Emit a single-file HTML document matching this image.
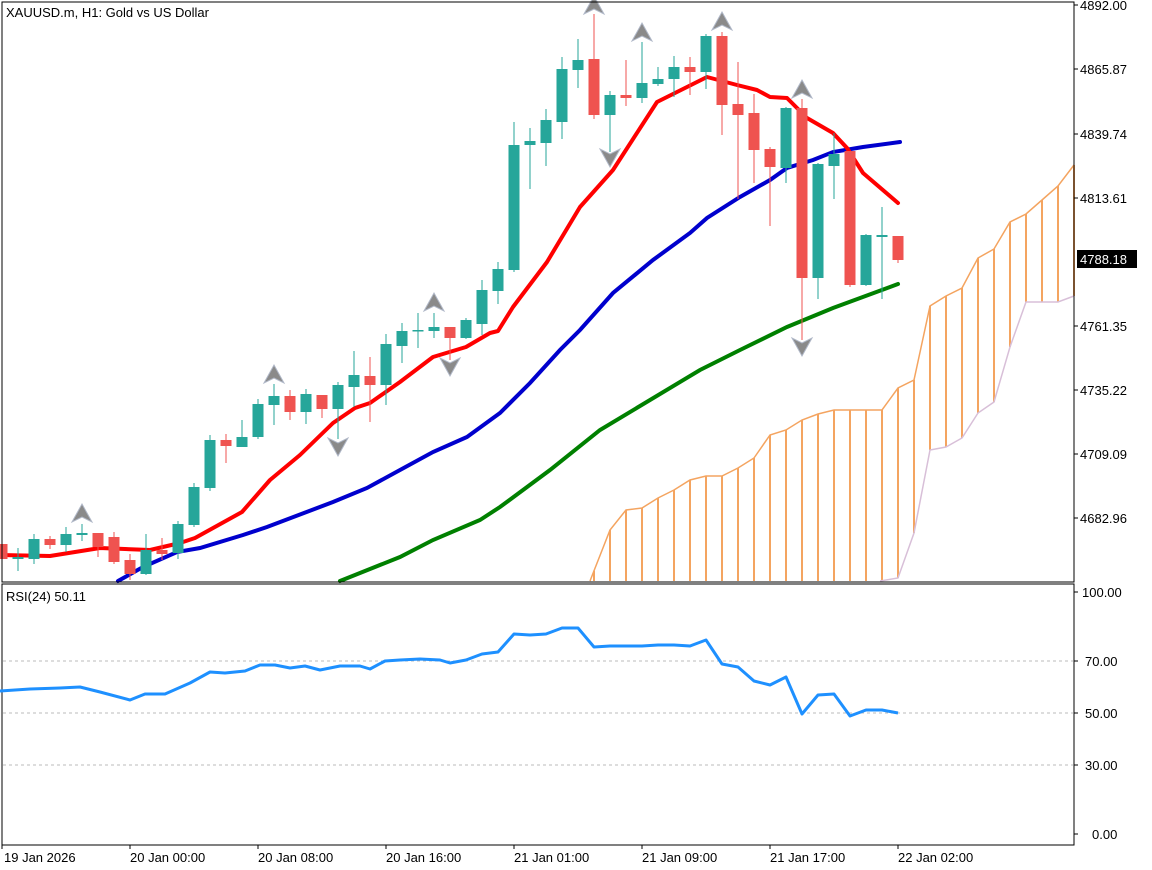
<!DOCTYPE html>
<html><head><meta charset="utf-8"><style>
html,body{margin:0;padding:0;background:#fff;}
svg{display:block;font-family:"Liberation Sans",sans-serif;}
</style></head><body>
<svg id="s" width="1152" height="870" xmlns="http://www.w3.org/2000/svg">
<rect width="1152" height="870" fill="#fff"/>
<g id="cloud"></g>
<g id="lines"></g>
<g id="candles"></g>
<g id="arrows"></g>
<rect x="2" y="2" width="1072" height="580" fill="none" stroke="#000" stroke-width="1"/>
<rect x="2" y="584" width="1072" height="261" fill="none" stroke="#000" stroke-width="1"/>
<g stroke="#bbb" stroke-dasharray="3,3" stroke-width="1">
<line x1="3" y1="661" x2="1073" y2="661"/><line x1="3" y1="713" x2="1073" y2="713"/><line x1="3" y1="765" x2="1073" y2="765"/></g>
<polyline fill="none" stroke="#1e90ff" stroke-width="3" stroke-linejoin="round" points="0,691 30,689 60,688 80,687 100,692 130,700 145,694 165,694 190,683 210,672 225,673 245,671 260,665 275,665 290,668 305,666 320,670 340,666 360,666 370,669 385,661 400,660 420,659 440,660 450,663 466,660 482,654 498,652 514,634 530,635 546,634 562,628 578,628 594,647 610,646 626,646 642,646 658,645 674,645 690,646 706,640 722,664 738,667 754,681 770,685 786,677 802,714 818,695 834,694 850,716 866,710 882,710 898,713"/>
<g font-size="13" fill="#000">
<text x="6" y="17">XAUUSD.m, H1:  Gold vs US Dollar</text>
<text x="6" y="601">RSI(24) 50.11</text>
<g id="ticks" stroke="#000"></g>
<text x="1080" y="10">4892.00</text>
<text x="1080" y="74">4865.87</text>
<text x="1080" y="139">4839.74</text>
<text x="1080" y="203">4813.61</text>
<text x="1080" y="331">4761.35</text>
<text x="1080" y="395">4735.22</text>
<text x="1080" y="459">4709.09</text>
<text x="1080" y="523">4682.96</text>
<rect x="1077" y="250" width="60" height="18" fill="#000"/>
<text x="1080" y="264" fill="#fff">4788.18</text>
<text x="1082" y="597">100.00</text>
<text x="1085" y="666">70.00</text>
<text x="1085" y="718">50.00</text>
<text x="1085" y="770">30.00</text>
<text x="1092" y="839">0.00</text>
<text x="4" y="862">19 Jan 2026</text>
<text x="130" y="862">20 Jan 00:00</text>
<text x="258" y="862">20 Jan 08:00</text>
<text x="386" y="862">20 Jan 16:00</text>
<text x="514" y="862">21 Jan 01:00</text>
<text x="642" y="862">21 Jan 09:00</text>
<text x="770" y="862">21 Jan 17:00</text>
<text x="898" y="862">22 Jan 02:00</text>
</g>
</svg>
<script>
var NS="http://www.w3.org/2000/svg";
function el(p,t,a){var e=document.createElementNS(NS,t);for(var k in a)e.setAttribute(k,a[k]);document.getElementById(p).appendChild(e);return e;}
// cloud
var up=[[590,581],[610,530],[626,510],[642,508],[658,498],[674,490],[690,480],[706,476],[722,476],[738,468],[754,458],[770,435],[786,430],[802,420],[818,414],[834,410],[850,410],[866,410],[882,410],[898,388],[914,380],[930,306],[946,296],[962,288],[978,258],[994,249],[1010,222],[1026,214],[1042,200],[1058,186],[1074,165]];
var lo=[[880,581],[898,578],[914,533],[930,450],[946,447],[962,438],[978,413],[994,402],[1010,347],[1026,302],[1042,302],[1058,302],[1074,296]];
function interp(a,x){for(var i=0;i<a.length-1;i++){if(x>=a[i][0]&&x<=a[i+1][0]){var t=(x-a[i][0])/(a[i+1][0]-a[i][0]);return a[i][1]+t*(a[i+1][1]-a[i][1]);}}return 581;}
for(var x=594;x<=1074;x+=16){var y1=interp(up,x),y2=x<880?581:interp(lo,x);el("cloud","line",{x1:x,y1:y1,x2:x,y2:y2,stroke:"#f4a460","stroke-width":2});}
el("cloud","polyline",{points:up.map(function(p){return p.join(",")}).join(" "),fill:"none",stroke:"#f4a460","stroke-width":1.5});
el("cloud","polyline",{points:lo.map(function(p){return p.join(",")}).join(" "),fill:"none",stroke:"#d8bfd8","stroke-width":1.5});
// MAs
el("lines","polyline",{points:"340,581 400,557 433,540 480,520 500,507 550,470 600,430 650,400 700,370 740,350 787,327 833,308 898,284",fill:"none",stroke:"#008000","stroke-width":4,"stroke-linecap":"round"});
el("lines","polyline",{points:"118,581 143,567 177,552 200,548 243,535 267,527 333,502 367,488 400,470 433,452 467,437 500,413 530,383 560,350 580,330 613,293 653,260 690,233 707,218 740,197 770,180 787,168 813,160 833,152 863,147 900,142",fill:"none",stroke:"#0000cd","stroke-width":4,"stroke-linecap":"round"});
el("lines","polyline",{points:"0,555 50,556 100,548 150,550 180,543 195,538 242,512 270,480 300,455 333,423 355,408 370,403 400,382 433,357 466,347 490,333 498,331 513,307 547,262 580,207 613,170 657,102 707,77 737,85 757,90 770,97 787,98 807,118 833,133 847,148 863,173 898,203",fill:"none",stroke:"#ff0000","stroke-width":4,"stroke-linecap":"round","stroke-linejoin":"round"});
// candles: [bodyTop,bodyBot,wickTop,wickBot,green]
var c=[[544,559,544,559,0],[557,559,548,571,1],[539,559,534,564,1],[539,545,536,549,0],[534,545,527,552,1],[533,535,524,541,1],[533,547,533,557,0],[537,562,532,564,0],[560,574,554,580,0],[550,574,534,575,1],[550,554,538,560,0],[524,553,521,559,1],[487,525,483,527,1],[440,488,435,491,1],[440,446,434,463,0],[437,447,420,447,1],[404,437,399,439,1],[396,405,384,425,1],[396,412,390,420,0],[394,412,389,424,1],[395,409,395,418,0],[385,409,382,439,1],[375,387,351,407,1],[376,385,357,422,0],[344,385,334,405,1],[331,346,323,363,1],[330,331,313,348,1],[327,331,313,338,1],[327,338,327,360,0],[320,338,318,339,1],[290,324,280,335,1],[269,291,262,304,1],[145,270,122,272,1],[141,145,128,189,1],[120,143,109,166,1],[69,122,57,139,1],[60,70,39,88,1],[59,115,14,119,0],[95,115,91,152,1],[95,98,60,106,0],[83,98,42,103,1],[79,84,67,86,1],[67,79,56,97,1],[67,72,57,95,0],[36,72,34,89,1],[36,105,32,135,0],[104,115,62,199,0],[113,150,94,183,0],[149,167,147,226,0],[108,168,107,183,1],[108,278,99,340,0],[164,278,163,299,1],[154,166,133,199,1],[151,285,151,287,0],[235,285,234,286,1],[235,237,207,299,1],[236,260,236,263,0]];
for(var i=0;i<c.length;i++){var x=2+16*i,d=c[i],col=d[4]?"#26a69a":"#ef5350";
el("candles","line",{x1:x,y1:d[2],x2:x,y2:d[3],stroke:col,"stroke-width":1});
el("candles","rect",{x:x-5.5,y:d[0],width:11,height:Math.max(1.5,d[1]-d[0]),fill:col});}
// arrows
function arr(x,y,upDir){var p=upDir?[[x,y-10],[x+10,y+8],[x,y+3],[x-10,y+8]]:[[x,y+10],[x+10,y-8],[x,y-3],[x-10,y-8]];
el("arrows","polygon",{points:p.map(function(q){return q.join(",")}).join(" "),fill:"#8a8a8a",stroke:"#b0b8c8","stroke-width":1});}
[[82,514],[274,375],[434,303],[594,6],[642,33],[722,22],[802,90]].forEach(function(a){arr(a[0],a[1],1)});
[[338,446],[450,366],[610,157],[802,346]].forEach(function(a){arr(a[0],a[1],0)});
// tick marks
[5,69,134,198,326,390,454,518,592,661,713,765,834].forEach(function(y){el("ticks","line",{x1:1074,y1:y,x2:1078,y2:y,"stroke-width":1});});
[2,130,258,386,514,642,770,898].forEach(function(x){el("ticks","line",{x1:x,y1:845,x2:x,y2:849,"stroke-width":1});});
</script>
</body></html>
